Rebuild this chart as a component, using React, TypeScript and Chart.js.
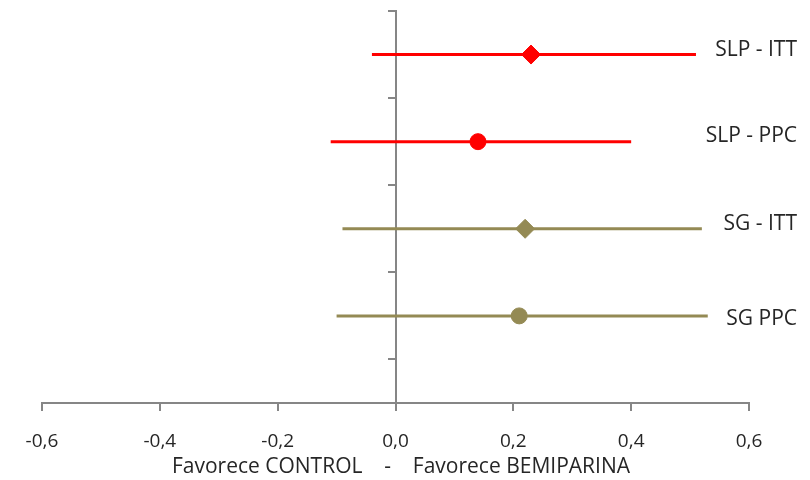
import React, { useEffect, useRef } from 'react';
import { Chart, registerables } from 'chart.js';

Chart.register(...registerables);

// ---- data ----
const categories = ['SLP - ITT', 'SLP - PPC', 'SG - ITT', 'SG PPC'];
const rowPositions = [4, 3, 2, 1];
const estimates = [0.23, 0.14, 0.22, 0.21];
const lowerBounds = [-0.04, -0.11, -0.09, -0.1];
const upperBounds = [0.51, 0.4, 0.52, 0.53];
const xTicks = [-0.6, -0.4, -0.2, 0, 0.2, 0.4, 0.6];
const yTicks = [0.5, 1.5, 2.5, 3.5, 4.5];
const axisTitle = '  Favorece CONTROL    -    Favorece BEMIPARINA';

// ---- styles ----
const rowColors = ['#FF0000', '#FF0000', '#948A54', '#948A54'];
const rowMarkers = ['rectRot', 'circle', 'rectRot', 'circle'];
const rowMarkerRadius = [9.5, 8, 9.5, 8];
const labelOffsetY = [-5, -6, -5, 3];
const axisColor = '#868686';
const textColor = '#262626';
const FONT = "'Open Sans', 'DejaVu Sans', sans-serif";

const labelPlugin = {
  id: 'rowLabels',
  afterDatasetsDraw(chart: any) {
    const { ctx } = chart;
    const y = chart.scales.y;
    ctx.save();
    ctx.font = `21px ${FONT}`;
    ctx.fillStyle = textColor;
    ctx.textAlign = 'right';
    ctx.textBaseline = 'middle';
    categories.forEach((c, i) => {
      ctx.fillText(c, chart.width - 13, y.getPixelForValue(rowPositions[i]) + labelOffsetY[i]);
    });
    ctx.restore();
  },
};

export default function App() {
  const ref = useRef<HTMLCanvasElement>(null);

  useEffect(() => {
    if (!ref.current) return;
    const lineSets = categories.map((c, i) => ({
      type: 'scatter' as const,
      label: c + ' IC',
      data: [
        { x: lowerBounds[i], y: rowPositions[i] },
        { x: upperBounds[i], y: rowPositions[i] },
      ],
      showLine: true,
      borderColor: rowColors[i],
      borderWidth: 3,
      pointRadius: 0,
      pointHoverRadius: 0,
      order: 2,
    }));
    const pointSets = categories.map((c, i) => ({
      type: 'scatter' as const,
      label: c,
      data: [{ x: estimates[i], y: rowPositions[i] }],
      pointStyle: rowMarkers[i],
      pointRadius: rowMarkerRadius[i],
      backgroundColor: rowColors[i],
      borderColor: rowColors[i],
      borderWidth: 1,
      order: 1,
    }));

    const chart = new Chart(ref.current, {
      type: 'scatter',
      data: { datasets: [...pointSets, ...lineSets] as any },
      options: {
        animation: false,
        responsive: false,
        layout: { padding: { left: 42, right: 61, top: 11, bottom: 0 } },
        plugins: { legend: { display: false }, tooltip: { enabled: false } },
        scales: {
          x: {
            type: 'linear',
            position: 'bottom',
            min: -0.6,
            max: 0.6,
            afterBuildTicks: (scale: any) => {
              scale.ticks = xTicks.map((value) => ({ value }));
            },
            afterFit: (scale: any) => {
              scale.height = 77;
            },
            border: { display: true, color: axisColor, width: 2 },
            grid: {
              drawOnChartArea: false,
              drawTicks: true,
              tickLength: 8,
              color: axisColor,
              lineWidth: 2,
            },
            ticks: {
              padding: 19,
              color: textColor,
              font: { family: FONT, size: 19 },
              maxRotation: 0,
              callback: (v: any) => {
                const n = Math.abs(Number(v)) < 1e-9 ? 0 : Number(v);
                return n.toFixed(1).replace('.', ',');
              },
            },
            title: {
              display: true,
              text: axisTitle,
              color: textColor,
              font: { family: FONT, size: 21 },
              padding: { top: 1, bottom: 0 },
            },
          },
          y: {
            type: 'linear',
            position: { x: 0 } as any,
            min: 0,
            max: 4.5,
            afterBuildTicks: (scale: any) => {
              scale.ticks = yTicks.map((value) => ({ value }));
            },
            border: { display: true, color: axisColor, width: 2 },
            grid: {
              drawOnChartArea: false,
              drawTicks: true,
              tickLength: 7,
              color: axisColor,
              lineWidth: 2,
            },
            ticks: { display: false },
          },
        },
      },
      plugins: [labelPlugin],
    });
    return () => chart.destroy();
  }, []);

  return (
    <div style={{ position: 'absolute', left: 0, top: 0, width: 810, height: 480, background: '#fff' }}>
      <canvas ref={ref} width={810} height={480} style={{ display: 'block' }} />
    </div>
  );
}
